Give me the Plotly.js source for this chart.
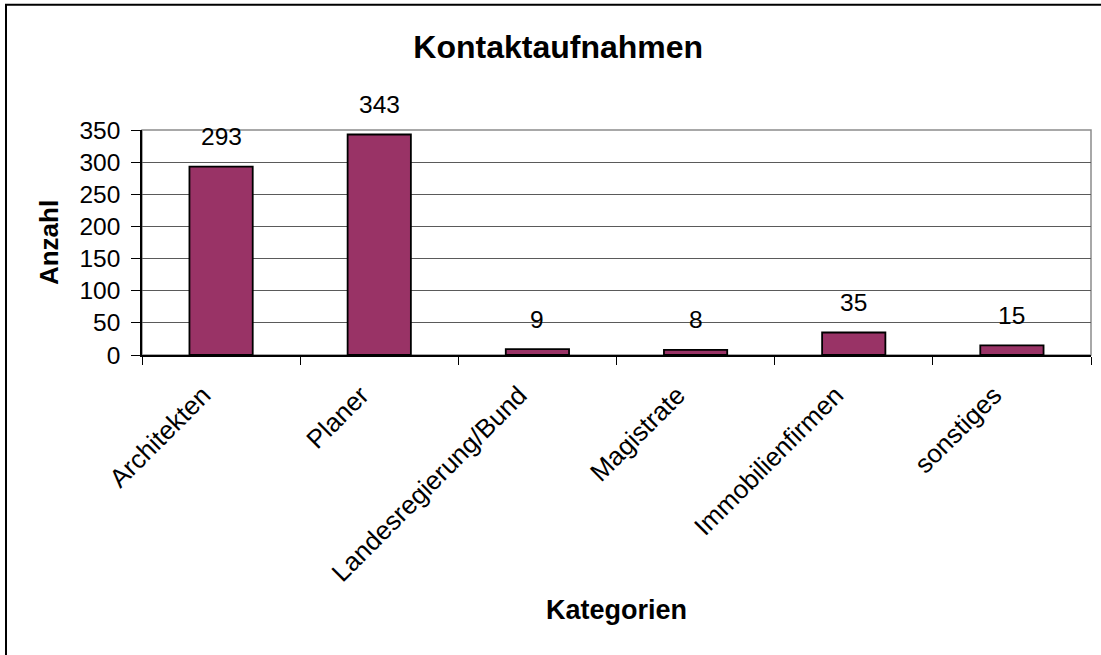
<!DOCTYPE html>
<html>
<head>
<meta charset="utf-8">
<script src="https://cdn.plot.ly/plotly-3.0.1.min.js"></script>
<style>html,body{margin:0;padding:0;background:#fff;}#chart{width:1101px;height:655px;}</style>
</head>
<body>
<div id="chart"></div>
<script>
const categories = ["Architekten", "Planer", "Landesregierung/Bund", "Magistrate", "Immobilienfirmen", "sonstiges"];
const values = [293, 343, 9, 8, 35, 15];
const yTicks = [0, 50, 100, 150, 200, 250, 300, 350];

const FONT = "Liberation Sans, Arial, Helvetica, sans-serif";

const trace = {
  type: "bar",
  x: categories,
  y: values,
  marker: { color: "#993366", line: { color: "#000000", width: 1.8 } },
  width: 0.4,
  hoverinfo: "x+y"
};

const labels = categories.map((c, i) => ({
  x: c, y: values[i], xref: "x", yref: "y",
  text: String(values[i]), showarrow: false,
  yanchor: "middle", yshift: 30,
  font: { family: FONT, size: 24.5, color: "#000" }
}));

const layout = {
  width: 1101, height: 655,
  margin: { l: 142, r: 10, t: 130, b: 300, pad: 0 },
  paper_bgcolor: "#ffffff", plot_bgcolor: "#ffffff",
  font: { family: FONT, color: "#000" },
  showlegend: false,
  bargap: 0.6,
  title: {
    text: "<b>Kontaktaufnahmen</b>",
    font: { family: FONT, size: 32, color: "#000" },
    xref: "container", x: 0.507, xanchor: "center",
    yref: "container", y: 1 - 47 / 655, yanchor: "middle"
  },
  xaxis: {
    type: "category",
    tickangle: -45,
    tickson: "boundaries",
    ticks: "outside", ticklen: 8, tickcolor: "#000", tickwidth: 1,
    ticklabelstandoff: 13,
    ticklabelshift: -18,
    tickfont: { family: FONT, size: 26, color: "#000" },
    showline: true, linecolor: "#000", linewidth: 1.5,
    showgrid: false, zeroline: false,
    automargin: false,
    title: { text: "<b>Kategorien</b>", font: { family: FONT, size: 27, color: "#000" }, standoff: 14 }
  },
  yaxis: {
    range: [0, 350],
    tickvals: yTicks,
    ticks: "outside", ticklen: 9, tickcolor: "#000", tickwidth: 1,
    ticklabelstandoff: 6,
    tickfont: { family: FONT, size: 24.5, color: "#000" },
    showline: true, linecolor: "#000", linewidth: 1.5,
    showgrid: true, gridcolor: "#5a5a5a", gridwidth: 1,
    zeroline: false,
    automargin: false,
    title: { text: "<b>Anzahl</b>", font: { family: FONT, size: 26, color: "#000" }, standoff: 13 }
  },
  annotations: labels,
  shapes: [
    { type: "rect", xref: "paper", yref: "paper", x0: 0, x1: 1, y0: 0, y1: 1,
      line: { color: "#8c8c8c", width: 1.5 }, fillcolor: "rgba(0,0,0,0)", layer: "below" },
    { type: "rect", xref: "paper", yref: "paper",
      x0: (6 - 142) / 949, x1: 1.05, y0: -1.5, y1: (355 - 4.7) / 225,
      line: { color: "#000", width: 2 }, fillcolor: "rgba(0,0,0,0)" }
  ]
};

Plotly.newPlot("chart", [trace], layout, { displayModeBar: false, responsive: false });
</script>
</body>
</html>
